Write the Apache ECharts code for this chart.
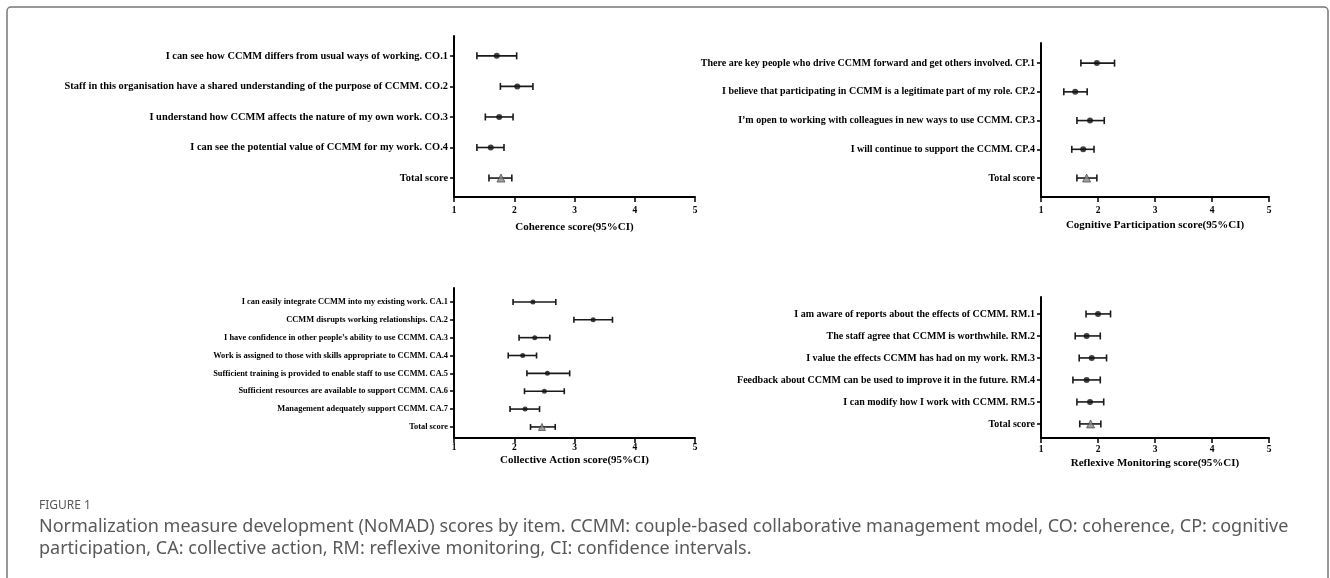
<!DOCTYPE html>
<html>
<head>
<meta charset="utf-8">
<script src="https://cdn.jsdelivr.net/npm/echarts@6/dist/echarts.min.js"></script>
<style>
html,body{margin:0;padding:0;background:#fff;}
#chart{width:1330px;height:578px;}
</style>
</head>
<body>
<div id="chart"></div>
<script>
// ---------- DATA ----------
const coLabels = [
  "I can see how CCMM differs from usual ways of working. CO.1",
  "Staff in this organisation have a shared understanding of the purpose of CCMM. CO.2",
  "I understand how CCMM affects the nature of my own work. CO.3",
  "I can see the potential value of CCMM for my work. CO.4",
  "Total score"
];
const coMean = [1.71, 2.05, 1.75, 1.61, 1.78];
const coLow  = [1.38, 1.77, 1.52, 1.38, 1.58];
const coHigh = [2.04, 2.31, 1.98, 1.83, 1.96];

const cpLabels = [
  "There are key people who drive CCMM forward and get others involved. CP.1",
  "I believe that participating in CCMM is a legitimate part of my role. CP.2",
  "I\u2019m open to working with colleagues in new ways to use CCMM. CP.3",
  "I will continue to support the CCMM. CP.4",
  "Total score"
];
const cpMean = [1.98, 1.60, 1.86, 1.74, 1.80];
const cpLow  = [1.70, 1.40, 1.63, 1.54, 1.63];
const cpHigh = [2.29, 1.81, 2.11, 1.93, 1.98];

const caLabels = [
  "I can easily integrate CCMM into my existing work. CA.1",
  "CCMM disrupts working relationships. CA.2",
  "I have confidence in other people\u2019s ability to use CCMM. CA.3",
  "Work is assigned to those with skills appropriate to CCMM. CA.4",
  "Sufficient training is provided to enable staff to use CCMM. CA.5",
  "Sufficient resources are available to support CCMM. CA.6",
  "Management adequately support CCMM. CA.7",
  "Total score"
];
const caMean = [2.31, 3.31, 2.34, 2.14, 2.55, 2.50, 2.18, 2.46];
const caLow  = [1.98, 2.99, 2.08, 1.90, 2.21, 2.17, 1.93, 2.27];
const caHigh = [2.69, 3.63, 2.59, 2.37, 2.92, 2.83, 2.42, 2.68];

const rmLabels = [
  "I am aware of reports about the effects of CCMM. RM.1",
  "The staff agree that CCMM is worthwhile. RM.2",
  "I value the effects CCMM has had on my work. RM.3",
  "Feedback about CCMM can be used to improve it in the future. RM.4",
  "I can modify how I work with CCMM. RM.5",
  "Total score"
];
const rmMean = [2.00, 1.80, 1.89, 1.80, 1.86, 1.87];
const rmLow  = [1.79, 1.60, 1.67, 1.56, 1.63, 1.68];
const rmHigh = [2.22, 2.04, 2.15, 2.04, 2.10, 2.05];

const axisTitles = [
  "Coherence score(95%CI)",
  "Cognitive Participation score(95%CI)",
  "Collective Action score(95%CI)",
  "Reflexive Monitoring score(95%CI)"
];
const xTicks = [1, 2, 3, 4, 5];

const captionHead = "FIGURE 1";
const captionLines = [
  "Normalization measure development (NoMAD) scores by item. CCMM: couple-based collaborative management model, CO: coherence, CP: cognitive",
  "participation, CA: collective action, RM: reflexive monitoring, CI: confidence intervals."
];

// ---------- LAYOUT ----------
const panels = [
  {labels: coLabels, mean: coMean, low: coLow, high: coHigh, grid: {left: 454, right: 635, top: 36, bottom: 381}, yMin: 0.35, yMax: 5.62, fs: 10.4, cap: 3.5, sym: 6, nameGap: 25, tickMargin: 9},
  {labels: cpLabels, mean: cpMean, low: cpLow, high: cpHigh, grid: {left: 1041, right: 61, top: 43, bottom: 381}, yMin: 0.30, yMax: 5.66, fs: 10, cap: 3.5, sym: 6, nameGap: 23, tickMargin: 9},
  {labels: caLabels, mean: caMean, low: caLow, high: caHigh, grid: {left: 454, right: 635, top: 288, bottom: 140}, yMin: 0.22, yMax: 8.62, fs: 8.4, cap: 3, sym: 5, nameGap: 17, tickMargin: 5},
  {labels: rmLabels, mean: rmMean, low: rmLow, high: rmHigh, grid: {left: 1041, right: 61, top: 297, bottom: 140}, yMin: 0.23, yMax: 6.64, fs: 10, cap: 3.5, sym: 6, nameGap: 20, tickMargin: 7}
];

const SERIF = "'Liberation Serif', 'Times New Roman', serif";

const grids = [], xAxes = [], yAxes = [], series = [];
panels.forEach((p, i) => {
  grids.push(Object.assign({containLabel: false}, p.grid));
  xAxes.push({
    type: 'value', gridIndex: i, min: xTicks[0], max: xTicks[xTicks.length - 1], interval: 1,
    axisLine: {show: true, lineStyle: {color: '#000', width: 2}},
    axisTick: {show: true, length: 5, lineStyle: {color: '#000', width: 1.5}},
    axisLabel: {color: '#000', fontFamily: SERIF, fontWeight: 'bold', fontSize: 9.5, margin: p.tickMargin},
    splitLine: {show: false},
    name: axisTitles[i], nameLocation: 'middle', nameGap: p.nameGap,
    nameTextStyle: {color: '#000', fontFamily: SERIF, fontWeight: 'bold', fontSize: 11}
  });
  const ticks = p.labels.map((_, k) => k + 1);
  yAxes.push({
    type: 'value', gridIndex: i, inverse: true, min: p.yMin, max: p.yMax,
    axisLine: {show: true, onZero: false, lineStyle: {color: '#000', width: 2}},
    axisTick: {show: true, length: 4, customValues: ticks, lineStyle: {color: '#000', width: 1.5}},
    axisLabel: {
      customValues: ticks, color: '#000', fontFamily: SERIF, fontWeight: 'bold', fontSize: p.fs, margin: 6,
      formatter: (v) => p.labels[Math.round(v) - 1] || ''
    },
    splitLine: {show: false}
  });
  const n = p.labels.length;
  const cap = p.cap;
  series.push({
    type: 'custom', xAxisIndex: i, yAxisIndex: i, silent: true, z: 2,
    data: p.labels.map((_, k) => [p.low[k], p.high[k], k + 1]),
    encode: {x: [0, 1], y: 2},
    renderItem: function (params, api) {
      const a = api.coord([api.value(0), api.value(2)]);
      const b = api.coord([api.value(1), api.value(2)]);
      const st = {stroke: '#1a1a1a', lineWidth: 1.6};
      return {type: 'group', children: [
        {type: 'line', shape: {x1: a[0], y1: a[1], x2: b[0], y2: b[1]}, style: st},
        {type: 'line', shape: {x1: a[0], y1: a[1] - cap, x2: a[0], y2: a[1] + cap}, style: st},
        {type: 'line', shape: {x1: b[0], y1: b[1] - cap, x2: b[0], y2: b[1] + cap}, style: st}
      ]};
    }
  });
  series.push({
    type: 'scatter', xAxisIndex: i, yAxisIndex: i, silent: true, z: 3,
    symbol: 'circle', symbolSize: p.sym,
    itemStyle: {color: '#111'},
    data: p.mean.slice(0, n - 1).map((m, k) => [m, k + 1])
  });
  series.push({
    type: 'scatter', xAxisIndex: i, yAxisIndex: i, silent: true, z: 3,
    symbol: 'triangle', symbolSize: p.sym + 2,
    itemStyle: {color: '#8a8a8a', borderColor: '#333', borderWidth: 0.8},
    data: [[p.mean[n - 1], n]]
  });
});

const chart = echarts.init(document.getElementById('chart'), null, {renderer: 'canvas'});
chart.setOption({
  animation: false,
  backgroundColor: '#fff',
  grid: grids, xAxis: xAxes, yAxis: yAxes, series: series,
  graphic: [
    {type: 'rect', shape: {x: 7, y: 7, width: 1321, height: 620, r: 4}, style: {fill: 'none', stroke: '#75777c', lineWidth: 1.5}, silent: true},
    {type: 'text', left: 39, top: 500, style: {text: captionHead, fill: '#58595b', font: "12px 'Noto Sans', sans-serif"}},
    {type: 'text', left: 39, top: 518, style: {text: captionLines[0], fill: '#58595b', font: "18px 'Noto Sans', sans-serif"}},
    {type: 'text', left: 39, top: 540, style: {text: captionLines[1], fill: '#58595b', font: "18px 'Noto Sans', sans-serif"}}
  ]
});
</script>
</body>
</html>
